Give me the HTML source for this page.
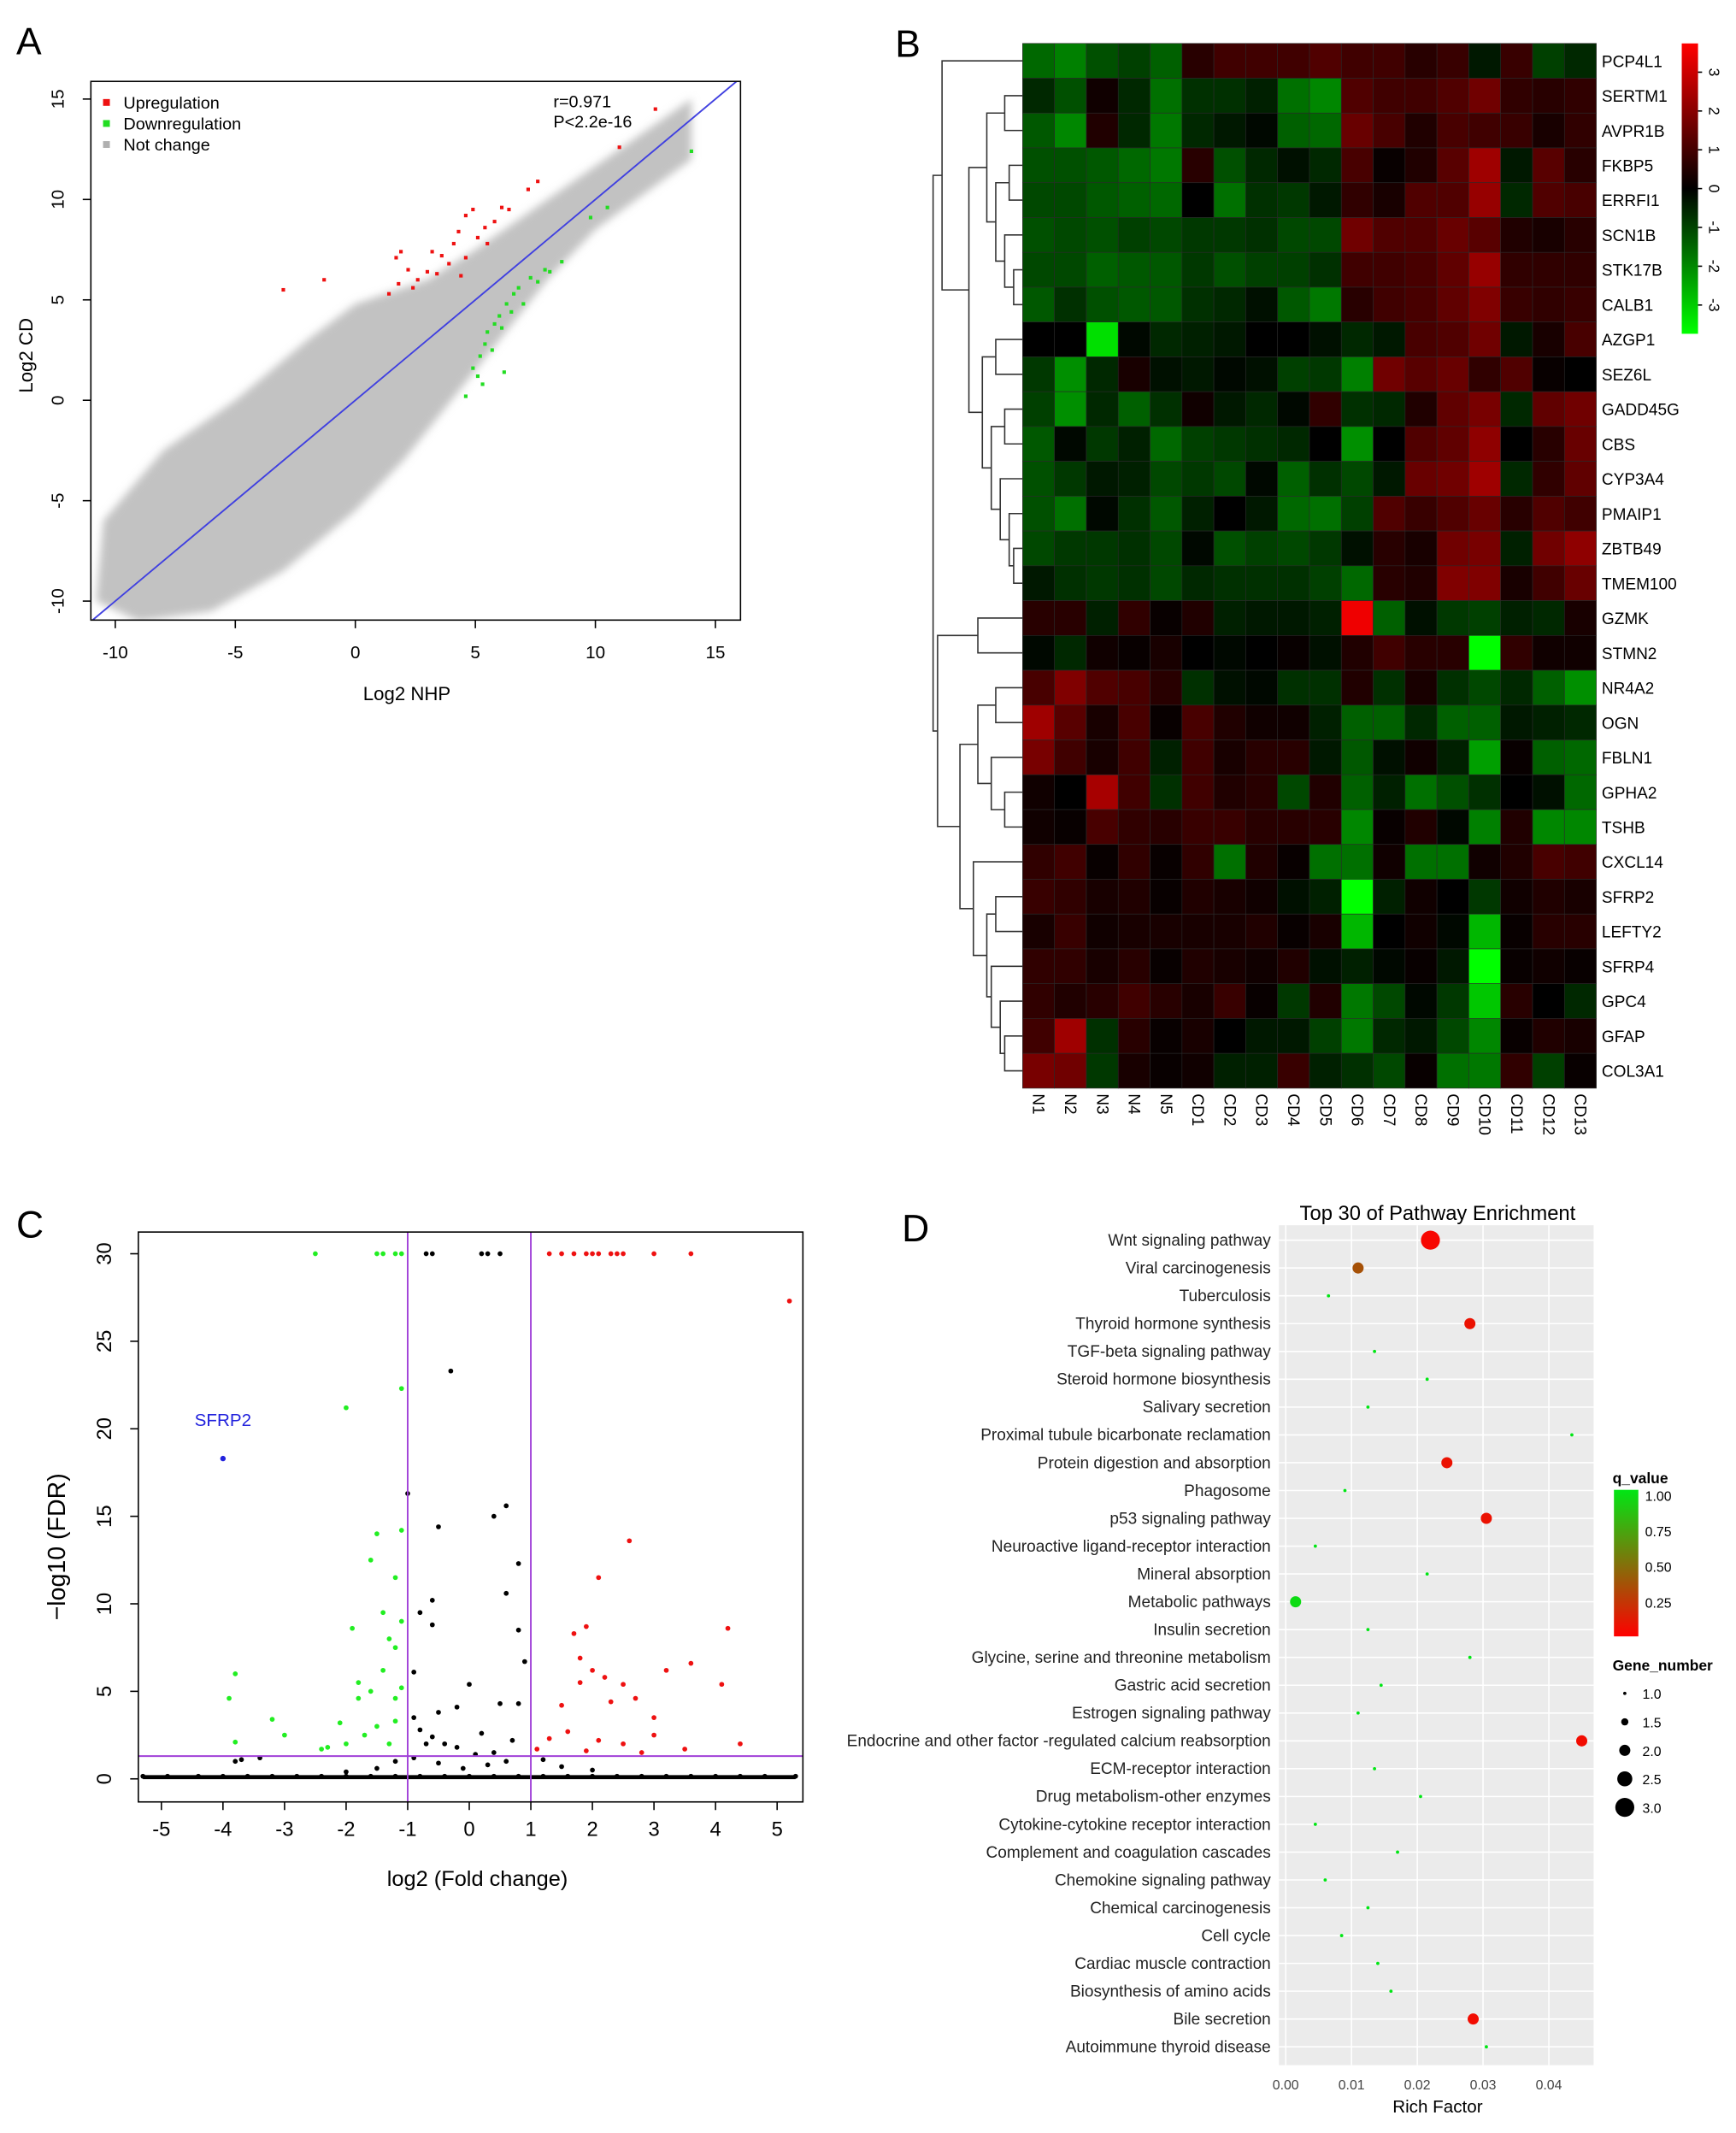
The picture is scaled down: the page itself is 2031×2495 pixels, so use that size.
<!DOCTYPE html>
<html><head><meta charset="utf-8">
<style>
html,body{margin:0;padding:0;background:#fff;}
svg{display:block;font-family:"Liberation Sans",sans-serif;}
</style></head>
<body>
<svg id="fig" width="2031" height="2495" viewBox="0 0 1280 1572" preserveAspectRatio="none" xmlns="http://www.w3.org/2000/svg">
<rect width="1280" height="1572" fill="#fff"/>
<g id="gA"></g>
<g id="gB"></g>
<g id="gC"></g>
<g id="gD"></g>
</svg>
<script>
// ---------- Panel A data ----------
const aUpPoints = [[-3,5.5],[-1.3,6],[1.7,7.1],[1.9,7.4],[2.2,6.5],[2.4,5.6],[2.6,6],[1.4,5.3],[1.8,5.8],[3,6.4],[3.2,7.4],[3.6,7.2],[3.9,6.8],[4.1,7.8],[4.3,8.4],[4.6,9.2],[4.9,9.5],[5.1,8.1],[5.4,8.6],[5.8,8.9],[6.1,9.6],[6.4,9.5],[3.4,6.3],[4.6,7.1],[7.2,10.5],[7.6,10.9],[5.5,7.8],[11,12.6],[12.5,14.5],[4.4,6.2]];
const aDownPoints = [[4.6,0.2],[4.9,1.6],[5.1,1.2],[5.2,2.2],[5.4,2.8],[5.5,3.4],[5.7,2.5],[5.8,3.8],[6,4.2],[6.1,3.6],[6.3,4.8],[6.5,4.4],[6.6,5.3],[6.8,5.6],[7,4.8],[7.3,6.1],[7.6,5.9],[7.9,6.5],[8.1,6.4],[5.3,0.8],[6.2,1.4],[9.8,9.1],[10.5,9.6],[14,12.4],[8.6,6.9]];
const aCloud = [[-10.5,-6],[-8,-2.5],[-5,0],[-2,3],[0,4.8],[3,6],[5,7.5],[8,10],[11,12.5],[14,15],[14,12],[10,8.5],[8,6],[6,3],[4,0],[2,-3],[0,-5.5],[-3,-8.5],[-6,-10.5],[-9,-11],[-10.8,-10]];
const aXTicks = [-10,-5,0,5,10,15];
const aYTicks = [15,10,5,0,-5,-10];

// ---------- Panel B data ----------
const bGenes = ["PCP4L1","SERTM1","AVPR1B","FKBP5","ERRFI1","SCN1B","STK17B","CALB1","AZGP1","SEZ6L","GADD45G","CBS","CYP3A4","PMAIP1","ZBTB49","TMEM100","GZMK","STMN2","NR4A2","OGN","FBLN1","GPHA2","TSHB","CXCL14","SFRP2","LEFTY2","SFRP4","GPC4","GFAP","COL3A1"];
const bSamples = ["N1","N2","N3","N4","N5","CD1","CD2","CD3","CD4","CD5","CD6","CD7","CD8","CD9","CD10","CD11","CD12","CD13"];
const bValues = [
[-1.3,-1.6,-1,-0.8,-1.2,0.5,0.8,0.8,0.8,1,0.8,0.8,0.5,0.7,-0.3,0.7,-0.8,-0.5],
[-0.5,-1,0.2,-0.5,-1.4,-0.6,-0.6,-0.4,-1.4,-1.7,1,0.8,0.8,1,1.4,0.6,0.5,0.6],
[-1.1,-1.7,0.4,-0.5,-1.5,-0.5,-0.3,-0.1,-1.2,-1.3,1.3,0.9,0.4,0.9,0.8,0.7,0.3,0.6],
[-1,-1,-1.1,-1.3,-1.5,0.5,-1,-0.5,-0.2,-0.5,0.9,0.1,0.4,1.1,2,-0.3,1.1,0.5],
[-0.9,-0.9,-1.1,-1.2,-1.3,0,-1.4,-0.6,-0.7,-0.3,0.6,0.3,1,1,1.9,-0.5,1,0.9],
[-1,-0.9,-1,-0.8,-0.9,-0.7,-0.7,-0.6,-0.9,-0.9,1.4,1,1,1.3,1.1,0.4,0.3,0.5],
[-0.9,-0.9,-1.2,-1.1,-1.1,-0.7,-1,-0.8,-0.8,-0.6,0.8,0.8,0.9,1.2,1.9,0.6,0.6,0.6],
[-1.1,-0.6,-1,-1.1,-1.1,-0.6,-0.5,-0.2,-1.1,-1.5,0.5,0.8,0.9,1.2,1.6,0.7,0.6,0.7],
[0,0,-2.8,-0.1,-0.5,-0.4,-0.3,0,0,-0.2,-0.5,-0.3,0.9,1,1.4,-0.3,0.3,0.9],
[-0.7,-1.8,-0.5,0.3,-0.2,-0.3,-0.1,-0.2,-0.8,-0.7,-1.6,1.4,1.1,1.3,0.6,1,0.1,0],
[-0.8,-1.8,-0.5,-1.2,-0.6,0.2,-0.3,-0.5,-0.1,0.6,-0.6,-0.5,0.4,1.2,1.5,-0.5,1.2,1.4],
[-1.1,-0.1,-0.7,-0.4,-1.3,-0.8,-0.7,-0.6,-0.5,0,-1.8,0,1,1.2,1.8,0,0.5,1.3],
[-1,-0.7,-0.3,-0.4,-0.9,-0.7,-0.9,-0.1,-1.2,-0.6,-0.9,-0.3,1.3,1.4,2,-0.5,0.6,1.2],
[-1,-1.4,-0.1,-0.6,-1.1,-0.4,0,-0.3,-1.3,-1.4,-0.8,1,0.7,1,1.3,0.5,1,0.8],
[-0.9,-0.7,-0.7,-0.6,-0.9,-0.1,-1,-0.8,-0.9,-0.7,-0.2,0.5,0.3,1.4,1.5,-0.4,1.4,1.8],
[-0.3,-0.6,-0.7,-0.6,-0.9,-0.5,-0.6,-0.6,-0.6,-0.8,-1.3,0.5,0.4,1.6,1.6,0.3,0.8,1.3],
[0.5,0.5,-0.4,0.6,0.1,0.4,-0.4,-0.3,-0.3,-0.4,3,-1.2,-0.2,-0.7,-0.8,-0.4,-0.5,0.3],
[-0.1,-0.5,0.2,0.1,0.3,0,-0.1,0,0.1,-0.2,0.4,0.8,0.5,0.5,-3.2,0.6,0.2,0.2],
[0.9,1.6,1,0.9,0.5,-0.6,-0.2,-0.1,-0.6,-0.6,0.4,-0.6,0.3,-0.6,-0.9,-0.5,-1.2,-1.8],
[2,1.1,0.3,0.9,0.1,0.9,0.4,0.2,0.2,-0.4,-1.2,-1.2,-0.5,-1.2,-1.2,-0.3,-0.4,-0.5],
[1.5,0.8,0.3,0.8,-0.4,0.8,0.3,0.5,0.5,-0.3,-1.1,-0.2,0.2,-0.4,-2,0.1,-1.2,-1.3],
[0.2,0,2.1,0.8,-0.6,0.8,0.4,0.5,-0.9,0.4,-1.2,-0.4,-1.4,-1,-0.6,0,-0.2,-1.3],
[0.2,0.1,0.9,0.6,0.5,0.7,0.7,0.5,0.5,0.5,-1.7,0.1,0.4,-0.1,-1.6,0.4,-1.7,-1.7],
[0.6,0.8,0.1,0.6,0.1,0.6,-1.4,0.4,0.1,-1.4,-1.4,0.2,-1.4,-1.4,0.2,0.4,0.9,0.8],
[0.7,0.6,0.3,0.4,0.1,0.4,0.3,0.2,-0.2,-0.4,-3.2,-0.4,0.2,0,-0.7,0.2,0.4,0.3],
[0.3,0.7,0.2,0.3,0.3,0.3,0.3,0.4,0.1,0.3,-2.3,0,0.2,-0.1,-2.3,0.1,0.5,0.5],
[0.6,0.6,0.3,0.5,0.1,0.4,0.3,0.2,0.4,-0.2,-0.4,-0.1,0.1,-0.3,-3.2,0.1,0.2,0.1],
[0.6,0.4,0.5,0.8,0.5,0.3,0.7,0.1,-0.7,0.4,-1.5,-0.9,-0.1,-0.7,-2.5,0.5,0,-0.5],
[0.8,2,-0.6,0.5,0.1,0.3,0,-0.3,-0.3,-0.8,-1.5,-0.5,-0.3,-0.9,-1.7,0.1,0.4,0.3],
[1.5,1.4,-0.7,0.3,0.1,0.2,-0.4,-0.4,0.7,-0.4,-0.6,-0.9,0.1,-1.4,-1.5,0.6,-0.8,0.1]];
const bScaleTicks = [3,2,1,0,-1,-2,-3];
const bTree = {h:1,c:[
 {h:0.9,c:[0,{h:0.6,c:[{h:0.4,c:[{h:0.2,c:[1,2]},{h:0.3,c:[{h:0.15,c:[3,4]},{h:0.2,c:[5,{h:0.1,c:[6,7]}]}]}]},{h:0.45,c:[{h:0.3,c:[8,9]},{h:0.35,c:[{h:0.2,c:[10,11]},{h:0.25,c:[12,{h:0.15,c:[13,{h:0.1,c:[14,15]}]}]}]}]}]}]},
 {h:0.95,c:[{h:0.5,c:[16,17]},{h:0.7,c:[{h:0.5,c:[{h:0.3,c:[18,19]},{h:0.35,c:[20,{h:0.2,c:[21,22]}]}]},{h:0.55,c:[23,{h:0.4,c:[{h:0.3,c:[24,25]},{h:0.35,c:[26,{h:0.25,c:[27,{h:0.2,c:[28,29]}]}]}]}]}]}]}]};

// ---------- Panel C data ----------
const cGreen = [[-2.5,30],[-1.5,30],[-1.4,30],[-1.2,30],[-1.1,30],[-2,21.2],[-1.1,22.3],[-3.8,6],[-3.9,4.6],[-3.8,2.1],[-3.2,3.4],[-3,2.5],[-2.4,1.7],[-2.3,1.8],[-2,2],[-1.8,4.6],[-1.9,8.6],[-1.8,5.5],[-1.6,5],[-1.6,12.5],[-1.5,14],[-1.5,3],[-1.4,9.5],[-1.3,8],[-1.2,11.5],[-1.2,7.5],[-1.1,14.2],[-1.1,9],[-1.7,2.5],[-1.3,2],[-1.2,3.3],[-1.1,5.2],[-2.1,3.2],[-1.4,6.2],[-1.2,4.6]];
const cRed = [[1.3,30],[1.5,30],[1.7,30],[1.9,30],[2,30],[2.1,30],[2.3,30],[2.4,30],[2.5,30],[3,30],[3.6,30],[5.2,27.3],[2.6,13.6],[2.1,11.5],[1.9,8.7],[1.7,8.3],[1.8,6.9],[2,6.2],[1.8,5.5],[1.5,4.2],[2.2,5.8],[2.5,5.4],[3.2,6.2],[3.6,6.6],[4.2,8.6],[4.1,5.4],[2.7,4.6],[2.3,4.4],[4.4,2],[3,3.5],[1.3,2.3],[1.6,2.7],[2.1,2.2],[2.5,2],[3,2.5],[1.1,1.7],[1.9,1.6],[2.8,1.5],[3.5,1.7]];
const cBlack = [[-0.7,30],[-0.6,30],[0.2,30],[0.3,30],[0.5,30],[-0.3,23.3],[-1,16.3],[-0.5,14.4],[0.4,15],[0.6,15.6],[0.8,12.3],[0.6,10.6],[-0.6,10.2],[-0.8,9.5],[-0.6,8.8],[0.8,8.5],[-0.9,6.1],[0.9,6.7],[-0.9,3.5],[-0.8,2.8],[-0.5,3.8],[-0.2,4.1],[0,5.4],[0.5,4.3],[0.8,4.3],[-0.6,2.4],[-0.4,2],[0.2,2.6],[-0.2,1.8],[0.4,1.5],[0.7,2.2],[-3.7,1.1],[-3.4,1.2],[-3.8,1],[-0.9,1.2],[-0.7,2],[0.1,1.4],[-0.5,0.9],[0.3,0.8],[-0.1,0.6],[0.6,1],[-1.5,0.6],[1.5,0.7],[-2,0.4],[2,0.5],[-1.2,1],[1.2,1.1]];
const cBaseline = [-5.3,-4.9,-4.4,-4,-3.6,-3.2,-2.8,-2.4,-2,-1.6,-1.2,-0.8,-0.4,0,0.4,0.8,1.2,1.6,2,2.4,2.8,3.2,3.6,4,4.4,4.8,5.3];
const cBlue = [[-4,18.3]];
const cXTicks = [-5,-4,-3,-2,-1,0,1,2,3,4,5];
const cYTicks = [0,5,10,15,20,25,30];

// ---------- Panel D data ----------
const dPathways = ["Wnt signaling pathway","Viral carcinogenesis","Tuberculosis","Thyroid hormone synthesis","TGF-beta signaling pathway","Steroid hormone biosynthesis","Salivary secretion","Proximal tubule bicarbonate reclamation","Protein digestion and absorption","Phagosome","p53 signaling pathway","Neuroactive ligand-receptor interaction","Mineral absorption","Metabolic pathways","Insulin secretion","Glycine, serine and threonine metabolism","Gastric acid secretion","Estrogen signaling pathway","Endocrine and other factor -regulated calcium reabsorption","ECM-receptor interaction","Drug metabolism-other enzymes","Cytokine-cytokine receptor interaction","Complement and coagulation cascades","Chemokine signaling pathway","Chemical carcinogenesis","Cell cycle","Cardiac muscle contraction","Biosynthesis of amino acids","Bile secretion","Autoimmune thyroid disease"];
const dRich = [0.022,0.011,0.0065,0.028,0.0135,0.0215,0.0125,0.0435,0.0245,0.009,0.0305,0.0045,0.0215,0.0015,0.0125,0.028,0.0145,0.011,0.045,0.0135,0.0205,0.0045,0.017,0.006,0.0125,0.0085,0.014,0.016,0.0285,0.0305];
const dGenes = [3,2,1,2,1,1,1,1,2,1,2,1,1,2,1,1,1,1,2,1,1,1,1,1,1,1,1,1,2,1];
const dQ = [0.03,0.35,1,0.08,1,1,1,1,0.08,1,0.08,1,1,0.95,1,1,1,1,0.05,1,1,1,1,1,1,1,1,1,0.05,1];
const dXTicks = [0,0.01,0.02,0.03,0.04];
const dQTicks = [1,0.75,0.5,0.25];
const dSizeTicks = [1,1.5,2,2.5,3];

const NS="http://www.w3.org/2000/svg";
function mk(parent,tag,attrs,text){const e=document.createElementNS(NS,tag);for(const k in attrs)e.setAttribute(k,attrs[k]);if(text!==undefined)e.textContent=text;parent.appendChild(e);return e;}
const svg=document.getElementById('fig');
const defs=mk(svg,'defs',{});
const blur=mk(defs,'filter',{id:'blurA',x:'-10%',y:'-10%',width:'120%',height:'120%'});
mk(blur,'feGaussianBlur',{stdDeviation:3});

// ================= Panel A =================
(function(){
 const g=document.getElementById('gA');
 const L=67,R=546,T=60,B=457;
 const xs=v=>262+v*17.7, ys=v=>295-v*14.8;
 const cp=mk(defs,'clipPath',{id:'clipA'});mk(cp,'rect',{x:L,y:T,width:R-L,height:B-T});
 const lbl=mk(g,'text',{x:12,y:40,'font-size':28,fill:'#000'},'A');
 
 const pg=mk(g,'g',{'clip-path':'url(#clipA)'});
 const cloud=mk(pg,'polygon',{points:aCloud.map(p=>xs(p[0])+','+ys(p[1])).join(' '),fill:'#c2c2c2',filter:'url(#blurA)'});
 
 const ln=mk(pg,'line',{x1:xs(-11),y1:ys(-11),x2:xs(16),y2:ys(16),stroke:'#4040e0','stroke-width':1.2});
 
 aUpPoints.forEach(p=>{const c=mk(pg,'rect',{x:xs(p[0])-1.3,y:ys(p[1])-1.3,width:2.6,height:2.6,fill:'#ee1111'});
  });
 aDownPoints.forEach(p=>{const c=mk(pg,'rect',{x:xs(p[0])-1.3,y:ys(p[1])-1.3,width:2.6,height:2.6,fill:'#22dd22'});
  });
 const fr=mk(g,'rect',{x:L,y:T,width:R-L,height:B-T,fill:'none',stroke:'#000','stroke-width':1});
 
 aXTicks.forEach(t=>{mk(g,'line',{x1:xs(t),x2:xs(t),y1:B,y2:B+6,stroke:'#000'});
  const e=mk(g,'text',{x:xs(t),y:B+28,'font-size':13,'text-anchor':'middle'},String(t));
  });
 aYTicks.forEach(t=>{mk(g,'line',{x1:L-6,x2:L,y1:ys(t),y2:ys(t),stroke:'#000'});
  const e=mk(g,'text',{x:47,y:ys(t),'font-size':13,'text-anchor':'middle',transform:`rotate(-90 47 ${ys(t)})`},String(t));
  });
 let e=mk(g,'text',{x:300,y:516,'font-size':14,'text-anchor':'middle'},'Log2  NHP');
 
 e=mk(g,'text',{x:24,y:262,'font-size':14,'text-anchor':'middle',transform:'rotate(-90 24 262)'},'Log2  CD');
 
 const leg=[['#ee1111','Upregulation'],['#22dd22','Downregulation'],['#b0b0b0','Not change']];
 leg.forEach((l,i)=>{const gg=mk(g,'g',{});
  mk(gg,'rect',{x:76,y:73+i*15.5,width:5,height:5,fill:l[0]});mk(gg,'text',{x:91,y:80+i*15.5,'font-size':12.5},l[1]);});
 e=mk(g,'text',{x:408,y:79,'font-size':12.5},'r=0.971');
 e=mk(g,'text',{x:408,y:94,'font-size':12.5},'P<2.2e-16');
})();

// ================= Panel B =================
(function(){
 const g=document.getElementById('gB');
 const L=754,T=32,cw=(1177-754)/18,rh=(802-32)/30;
 const lbl=mk(g,'text',{x:660,y:42,'font-size':28},'B');
 
 function col(v){const a=Math.min(1,Math.abs(v)/3.2);const c=Math.round(255*a);return v>=0?`rgb(${c},0,0)`:`rgb(0,${c},0)`;}
 bValues.forEach((row,i)=>row.forEach((v,j)=>{
  const r=mk(g,'rect',{x:L+j*cw,y:T+i*rh,width:cw,height:rh,fill:col(v),stroke:'#2a2a2a','stroke-width':0.4});
  }));
 bGenes.forEach((n,i)=>{const e=mk(g,'text',{x:1181,y:T+i*rh+rh/2+4.5,'font-size':12},n);
  });
 bSamples.forEach((n,j)=>{const x=L+j*cw+cw/2-4,y=806;const e=mk(g,'text',{x:x,y:y,'font-size':12,transform:`rotate(90 ${x} ${y})`},n);
  });
 const dg=mk(g,'g',{stroke:'#333','stroke-width':1,fill:'none'});
 
 const hx=h=>L-h*66;
 function draw(n){ if(typeof n==='number') return {x:L,y:T+n*rh+rh/2};
  const a=draw(n.c[0]),b=draw(n.c[1]),x=hx(n.h);
  mk(dg,'path',{d:`M${a.x},${a.y}H${x}V${b.y}H${b.x}`});return {x:x,y:(a.y+b.y)/2};}
 draw(bTree);
 const lg=mk(defs,'linearGradient',{id:'gradB',x1:0,y1:0,x2:0,y2:1});
 [[0,'#ff0000'],[0.5,'#000000'],[1,'#00ff00']].forEach(s=>mk(lg,'stop',{offset:s[0],'stop-color':s[1]}));
 const cb=mk(g,'rect',{x:1240,y:32,width:12,height:214,fill:'url(#gradB)'});
 
 bScaleTicks.forEach(t=>{const y=139-t*28.6;mk(g,'line',{x1:1252,x2:1255,y1:y,y2:y,stroke:'#000'});
  const e=mk(g,'text',{x:1260,y:y,'font-size':11,'text-anchor':'middle',transform:`rotate(90 1260 ${y})`},String(t));
  });
})();

// ================= Panel C =================
(function(){
 const g=document.getElementById('gC');
 const L=102,R=592,T=908,B=1328;
 const xs=v=>346+v*45.4, ys=v=>1311-v*12.9;
 const lbl=mk(g,'text',{x:12,y:912,'font-size':28},'C');
 
 const cp=mk(defs,'clipPath',{id:'clipC'});mk(cp,'rect',{x:L,y:T,width:R-L,height:B-T});
 const pg=mk(g,'g',{'clip-path':'url(#clipC)'});
 const bl=mk(pg,'line',{x1:xs(cBaseline[0]),x2:xs(cBaseline[cBaseline.length-1]),y1:ys(0.1),y2:ys(0.1),stroke:'#000','stroke-width':3});
 
 cBaseline.forEach(v=>{const c=mk(pg,'circle',{cx:xs(v),cy:ys(0.15),r:1.8,fill:'#000'});
  });
 cBlack.forEach(p=>{const c=mk(pg,'circle',{cx:xs(p[0]),cy:ys(p[1]),r:1.8,fill:'#000'});
  });
 cGreen.forEach(p=>{const c=mk(pg,'circle',{cx:xs(p[0]),cy:ys(p[1]),r:1.8,fill:'#22ee22'});
  });
 cRed.forEach(p=>{const c=mk(pg,'circle',{cx:xs(p[0]),cy:ys(p[1]),r:1.8,fill:'#ee1111'});
  });
 cBlue.forEach(p=>{const c=mk(pg,'circle',{cx:xs(p[0]),cy:ys(p[1]),r:2,fill:'#2222dd'});
  
  const t=mk(g,'text',{x:xs(p[0]),y:ys(p[1])-24,'font-size':13,fill:'#2222dd','text-anchor':'middle'},'SFRP2');
  });
 [-1,1].forEach(v=>{const l=mk(g,'line',{x1:xs(v),x2:xs(v),y1:T,y2:B,stroke:'#a040d8','stroke-width':1.2});
  });
 const hl=mk(g,'line',{x1:L,x2:R,y1:ys(1.3),y2:ys(1.3),stroke:'#a040d8','stroke-width':1.2});
 
 const fr=mk(g,'rect',{x:L,y:T,width:R-L,height:B-T,fill:'none',stroke:'#000'});
 
 cXTicks.forEach(t=>{mk(g,'line',{x1:xs(t),x2:xs(t),y1:B,y2:B+6,stroke:'#000'});
  const e=mk(g,'text',{x:xs(t),y:B+25,'font-size':15,'text-anchor':'middle'},String(t));
  });
 cYTicks.forEach(t=>{mk(g,'line',{x1:L-6,x2:L,y1:ys(t),y2:ys(t),stroke:'#000'});
  const e=mk(g,'text',{x:82,y:ys(t),'font-size':15,'text-anchor':'middle',transform:`rotate(-90 82 ${ys(t)})`},String(t));
  });
 let e=mk(g,'text',{x:352,y:1390,'font-size':16,'text-anchor':'middle'},'log2 (Fold change)');
 
 e=mk(g,'text',{x:48,y:1140,'font-size':18,'text-anchor':'middle',transform:'rotate(-90 48 1140)'},'\u2212log10 (FDR)');
 
})();

// ================= Panel D =================
(function(){
 const g=document.getElementById('gD');
 const L=943,R=1175,T=903,B=1522;
 const xs=v=>948+v*4850, ys=i=>914+i*20.5;
 const lbl=mk(g,'text',{x:665,y:915,'font-size':28},'D');
 
 let e=mk(g,'text',{x:1060,y:899,'font-size':15,'text-anchor':'middle'},'Top 30 of Pathway Enrichment');
 
 const bg=mk(g,'rect',{x:L,y:T,width:R-L,height:B-T,fill:'#ebebeb'});
 
 dXTicks.forEach(t=>mk(g,'line',{x1:xs(t),x2:xs(t),y1:T,y2:B,stroke:'#fff','stroke-width':1}));
 dPathways.forEach((p,i)=>{mk(g,'line',{x1:L,x2:R,y1:ys(i),y2:ys(i),stroke:'#fff','stroke-width':1});
  const t=mk(g,'text',{x:937,y:ys(i)+4,'font-size':12,'text-anchor':'end',fill:'#222'},p);
  });
 function qcol(q){const r=Math.round(255*(1-q)),gg=Math.round(230*q);return `rgb(${r},${gg},${Math.round(20*q)})`;}
 const rad=n=>1.2+(n-1)*2.9;
 dPathways.forEach((p,i)=>{const c=mk(g,'circle',{cx:xs(dRich[i]),cy:ys(i),r:rad(dGenes[i]),fill:qcol(dQ[i])});
  });
 dXTicks.forEach(t=>{const ee=mk(g,'text',{x:xs(t),y:1540,'font-size':10,'text-anchor':'middle',fill:'#444'},t.toFixed(2));
  });
 e=mk(g,'text',{x:1060,y:1557,'font-size':13,'text-anchor':'middle'},'Rich Factor');
 
 e=mk(g,'text',{x:1189,y:1093,'font-size':11,'font-weight':'bold'},'q_value');
 
 const lg=mk(defs,'linearGradient',{id:'gradD',x1:0,y1:0,x2:0,y2:1});
 [[0,'rgb(0,230,20)'],[0.5,'rgb(128,115,10)'],[1,'rgb(255,0,0)']].forEach(s=>mk(lg,'stop',{offset:s[0],'stop-color':s[1]}));
 const cb=mk(g,'rect',{x:1190,y:1098,width:18,height:108,fill:'url(#gradD)'});
 
 dQTicks.forEach(t=>{const y=1102+(1-t)*105;const ee=mk(g,'text',{x:1213,y:y+4,'font-size':10},t.toFixed(2));
  });
 e=mk(g,'text',{x:1189,y:1231,'font-size':11,'font-weight':'bold'},'Gene_number');
 
 dSizeTicks.forEach((s,i)=>{const y=1248+i*21;const gg=mk(g,'g',{});
  mk(gg,'circle',{cx:1198,cy:y,r:rad(s),fill:'#000'});mk(gg,'text',{x:1211,y:y+4,'font-size':10},s.toFixed(1));});
})();
</script>
</body></html>
